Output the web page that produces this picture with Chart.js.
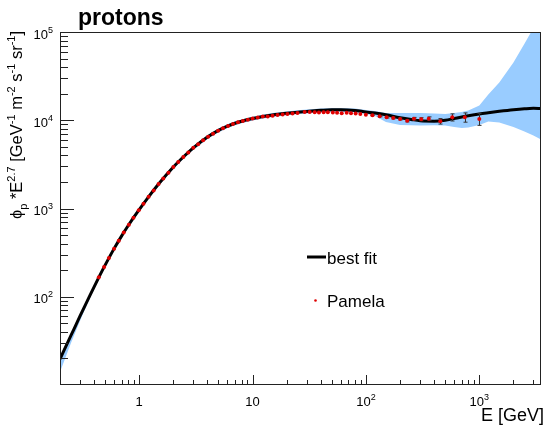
<!DOCTYPE html>
<html>
<head>
<meta charset="utf-8">
<script src="https://cdn.jsdelivr.net/npm/chart.js@4.4.0/dist/chart.umd.min.js"></script>
<style>
  html, body { margin:0; padding:0; background:#fff; }
  canvas { display:block; }
</style>
</head>
<body>
<canvas id="chart" width="545" height="428"></canvas>
<script>
// best fit curve (E in GeV, flux * E^2.7)
const fitE = [0.2,0.25,0.3,0.35,0.4,0.45,0.5,0.6,0.7,0.8,0.9,1,1.2,1.5,2,2.5,3,4,5,6,7,8,10,12,15,20,25,30,40,50,60,80,100,120,150,200,250,300,400,500,600,700,800,1000,1200,1500,2000,2500,3000,3500];
const fitV = [19.7,36.4,60.2,90.8,129.7,175.5,228,351,490,641,804,974,1338,1931,2952,3931,4864,6461,7669,8577,9250,9743,10452,10952,11478,12000,12350,12575,12950,13150,13150,12900,12410,12090,11530,10670,10210,9870,9770,10000,10470,10890,11240,11780,12160,12610,13150,13490,13670,13600];

// uncertainty band, same energies as fitE
const bandHi = [21,38,63,95,136,184,240,369,515,673,844,1023,1405,2028,3100,4128,5107,6784,8052,9006,9713,10230,10975,11500,12052,12600,12968,13204,13598,13808,13808,13545,13030,12700,12100,12080,12080,12080,11930,11800,12080,12400,12900,14700,19600,26800,45000,73500,111000,160000];
const bandLo = [14,30,53,84,122,166,217,334,466,609,764,925,1271,1834,2804,3734,4621,6138,7286,8148,8788,9256,9929,10404,10904,11400,11733,11946,12303,12493,12493,12255,11790,11200,9570,8850,8800,8740,8790,8740,8390,8180,8290,8850,9680,9440,8360,7470,6730,6040];

// Pamela data
const pamE = [0.44,0.49,0.54,0.60,0.66,0.73,0.81,0.89,0.99,1.09,1.21,1.34,1.48,1.63,1.81,2.0,2.21,2.45,2.71,3.0,3.31,3.66,4.05,4.48,4.96,5.48,6.07,6.71,7.42,8.21,9.08,10.0,11.1,12.3,13.6,15.0,16.6,18.4,20.3,22.5,24.9,
  28.8,31.9,35.3,38.5,42.3,46.1,51.0,55.6,61.1,67.6,73.8,81.1,89.2,99.8,114,132,152,174,200,231,265,307,358,453,577,745,1000];
const pamV = [166,217,274,351,432,533,656,787,957,1132,1357,1604,1889,2183,2549,2952,3356,3830,4318,4864,5359,5917,6523,7047,7621,8111,8626,9060,9462,9822,10139,10452,10735,11010,11050,11280,11450,11600,11780,11950,12120,
  12420,12420,12320,12220,12320,12320,12220,12130,12030,12130,12030,11930,11760,11570,11380,11130,10810,10610,10350,9890,10420,10260,10420,9750,10810,10810,10350];
const pamErr = [0,0,0,0,0,0,0,0,0,0,0,0,0,0,0,0,0,0,0,0,0,0,0,0,0,0,0,0,0,0,0,0,0,0,0,0,0,0,0,0,0,
  0,0,0,0,0,0,0,0,0,0,0,0,0,0,150,180,200,230,260,300,350,420,500,700,1000,1300,1600];

// axis ticks
const xMajor = [1,10,100,1000];
const xMajorLbl = [["1",""],["10",""],["10","2"],["10","3"]];
const yMajor = [100,1000,10000,100000];
const yMajorLbl = [["10","2"],["10","3"],["10","4"],["10","5"]];

const FF = '"Liberation Sans", Arial, Helvetica, "DejaVu Sans", sans-serif';
const RED = "#e00000";
const BLUE = "#99ccff";

function minorTicks(lo, hi){
  const out = [];
  for(let d = 0.1; d < hi; d *= 10){
    for(let k = 2; k <= 9; k++){
      const v = +(k*d).toPrecision(3);
      if(v > lo && v < hi) out.push(v);
    }
  }
  return out;
}

// parts: [text, kind] kind: m main, u superscript, d subscript
function drawScript(ctx, parts, x, y, draw){
  let cx = x;
  parts.forEach(([t,k])=>{
    ctx.font = (k==="m" ? "16.5px " : "11px ") + FF;
    const dy = k==="u" ? -7 : k==="d" ? 4.5 : 0;
    if(draw) ctx.fillText(t, cx, y+dy);
    cx += ctx.measureText(t).width;
  });
  return cx - x;
}

const rootStyle = {
  id: "rootStyle",
  beforeDatasetDraw(chart, args){
    if(args.index !== 3) return;
    const ctx = chart.ctx, xs = chart.scales.x, ys = chart.scales.y, a = chart.chartArea;
    ctx.save();
    ctx.beginPath(); ctx.rect(a.left, a.top, a.right-a.left, a.bottom-a.top); ctx.clip();
    ctx.strokeStyle = "#333"; ctx.lineWidth = 1;
    pamE.forEach((e,i)=>{
      if(!pamErr[i]) return;
      const px = Math.round(xs.getPixelForValue(e)) + 0.5;
      const y1 = ys.getPixelForValue(pamV[i]+pamErr[i]);
      const y2 = ys.getPixelForValue(pamV[i]-pamErr[i]);
      ctx.beginPath();
      ctx.moveTo(px, y1); ctx.lineTo(px, y2);
      ctx.moveTo(px-2, y1); ctx.lineTo(px+2, y1);
      ctx.moveTo(px-2, y2); ctx.lineTo(px+2, y2);
      ctx.stroke();
    });
    ctx.restore();
  },
  afterDraw(chart){
    const ctx = chart.ctx, xs = chart.scales.x, ys = chart.scales.y, a = chart.chartArea;
    ctx.save();
    // frame
    ctx.strokeStyle = "#222"; ctx.lineWidth = 1;
    ctx.strokeRect(a.left+0.5, a.top+0.5, a.right-a.left-1, a.bottom-a.top-1);

    // x ticks
    ctx.beginPath();
    xMajor.forEach(v=>{
      const px = Math.round(xs.getPixelForValue(v))+0.5;
      ctx.moveTo(px, a.bottom); ctx.lineTo(px, a.bottom-10);
    });
    minorTicks(0.2, 3500).forEach(v=>{
      if(xMajor.includes(v)) return;
      const px = Math.round(xs.getPixelForValue(v))+0.5;
      ctx.moveTo(px, a.bottom); ctx.lineTo(px, a.bottom-5);
    });
    // y ticks
    yMajor.forEach(v=>{
      const py = Math.round(ys.getPixelForValue(v))+0.5;
      ctx.moveTo(a.left, py); ctx.lineTo(a.left+14, py);
    });
    minorTicks(10, 100000).forEach(v=>{
      if(yMajor.includes(v)) return;
      const py = Math.round(ys.getPixelForValue(v))+0.5;
      ctx.moveTo(a.left, py); ctx.lineTo(a.left+8, py);
    });
    ctx.stroke();

    ctx.fillStyle = "#000";
    ctx.textBaseline = "alphabetic";
    ctx.textAlign = "left";

    // x labels
    xMajor.forEach((v,i)=>{
      const px = xs.getPixelForValue(v);
      const [b,s] = xMajorLbl[i];
      ctx.font = "13px " + FF; const w1 = ctx.measureText(b).width;
      ctx.font = "9px " + FF; const w2 = s ? ctx.measureText(s).width : 0;
      const x0 = px - (w1+w2)/2;
      ctx.font = "13px " + FF; ctx.fillText(b, x0, 406);
      if(s){ ctx.font = "9px " + FF; ctx.fillText(s, x0+w1, 399.5); }
    });
    // y labels
    yMajor.forEach((v,i)=>{
      const py = ys.getPixelForValue(v);
      const [b,s] = yMajorLbl[i];
      ctx.font = "13px " + FF; const w1 = ctx.measureText(b).width;
      ctx.font = "9px " + FF; const w2 = ctx.measureText(s).width;
      const x0 = 53 - w1 - w2;
      ctx.font = "13px " + FF; ctx.fillText(b, x0, py+6.5);
      ctx.font = "9px " + FF; ctx.fillText(s, x0+w1, py+0.5);
    });

    // titles
    ctx.font = "bold 23px " + FF;
    ctx.fillText("protons", 78, 25);
    ctx.font = "18px " + FF;
    ctx.textAlign = "right";
    ctx.fillText("E [GeV]", 544, 421);
    ctx.textAlign = "left";

    const yTitle = [["\u03d5","m"],["p","d"],[" *E","m"],["2.7","u"],[" [GeV","m"],["-1","u"],[" m","m"],["-2","u"],[" s","m"],["-1","u"],[" sr","m"],["-1","u"],["]","m"]];
    const w = drawScript(ctx, yTitle, 0, 0, false);
    ctx.save();
    ctx.translate(22, 31);
    ctx.rotate(-Math.PI/2);
    drawScript(ctx, yTitle, -w, 0, true);
    ctx.restore();

    // legend
    ctx.strokeStyle = "#000"; ctx.lineWidth = 3;
    ctx.beginPath(); ctx.moveTo(307, 257); ctx.lineTo(326, 257); ctx.stroke();
    ctx.font = "17px " + FF;
    ctx.fillText("best fit", 327, 263.5);
    ctx.fillStyle = RED;
    ctx.beginPath(); ctx.arc(315.5, 300.5, 1.3, 0, Math.PI*2); ctx.fill();
    ctx.fillStyle = "#000";
    ctx.fillText("Pamela", 327, 307);
    ctx.restore();
  }
};

new Chart(document.getElementById("chart"), {
  type: "line",
  data: {
    datasets: [
      { data: fitE.map((e,i)=>({x:e, y:bandLo[i]})), borderWidth:0, pointRadius:0, fill:false, order:4 },
      { data: fitE.map((e,i)=>({x:e, y:bandHi[i]})), borderWidth:0, pointRadius:0, fill:"-1", backgroundColor:BLUE, order:3 },
      { data: fitE.map((e,i)=>({x:e, y:fitV[i]})), borderColor:"#000", borderWidth:3, pointRadius:0, fill:false, cubicInterpolationMode:"monotone", order:2 },
      { data: pamE.map((e,i)=>({x:e, y:pamV[i]})), showLine:false, pointRadius:2, pointBorderWidth:0, pointBackgroundColor:RED, order:1 }
    ]
  },
  options: {
    responsive: false,
    animation: false,
    devicePixelRatio: 1,
    layout: { padding: { left:0, top:32, right:1, bottom:0 } },
    plugins: { legend:{display:false}, tooltip:{enabled:false} },
    scales: {
      x: { type:"logarithmic", min:0.2, max:3500,
           grid:{display:false}, border:{display:false}, ticks:{display:false},
           afterFit(s){ s.height = 43; } },
      y: { type:"logarithmic", min:10, max:100000,
           grid:{display:false}, border:{display:false}, ticks:{display:false},
           afterFit(s){ s.width = 60; } }
    }
  },
  plugins: [rootStyle]
});
</script>
</body>
</html>
